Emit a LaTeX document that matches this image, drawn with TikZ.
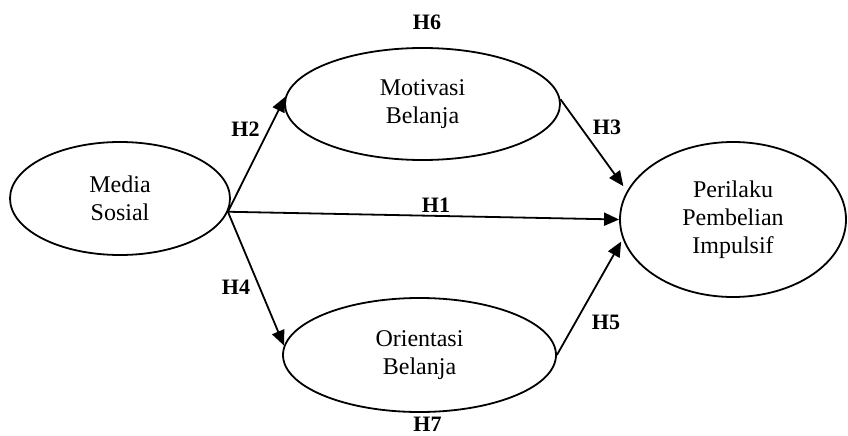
\documentclass[tikz,border=0pt]{standalone}
\usepackage{fontspec}
\setmainfont{Liberation Serif}
\usetikzlibrary{shapes.geometric,arrows.meta}
\begin{document}
\begin{tikzpicture}[x=1pt,y=-1pt,
  ell/.style={ellipse,draw,line width=1.8pt,inner sep=0pt,align=center,
    font=\fontsize{24}{28}\selectfont},
  arr/.style={line width=1.8pt,-{Triangle[length=15pt,width=13pt]}},
  hyp/.style={font=\fontsize{22}{26}\selectfont\bfseries,inner sep=0pt}]
\useasboundingbox (0,0) rectangle (848,436);
\node[ell,minimum width=220pt,minimum height=113pt] (ms) at (120,198.5) {Media\\Sosial};
\node[ell,minimum width=275pt,minimum height=112pt] (mb) at (422.5,104) {Motivasi\\Belanja};
\node[ell,minimum width=273pt,minimum height=114pt] (ob) at (419.5,355) {Orientasi\\Belanja};
\node[ell,minimum width=226pt,minimum height=155pt] (pb) at (733,219.5) {Perilaku\\Pembelian\\Impulsif};
\coordinate (src) at (ms.-7.7);
\draw[arr] (src) -- (mb.177.4);
\draw[arr] (src) -- (pb.west);
\draw[arr] (src) -- (ob.176.6);
\draw[arr,shorten >=6pt] (mb.2) -- (pb.165.4);
\draw[arr,shorten >=3pt] (ob.east) -- (pb.190.3);
\node[hyp] (h6) at (427,22) {H6};
\node[hyp] (h2) at (245.5,129.5) {H2};
\node[hyp] (h3) at (607,127) {H3};
\node[hyp] (h1) at (436,205) {H1};
\node[hyp] (h4) at (236,287) {H4};
\node[hyp] (h5) at (606,322) {H5};
\node[hyp] (h7) at (427.5,424) {H7};
\end{tikzpicture}
\end{document}
